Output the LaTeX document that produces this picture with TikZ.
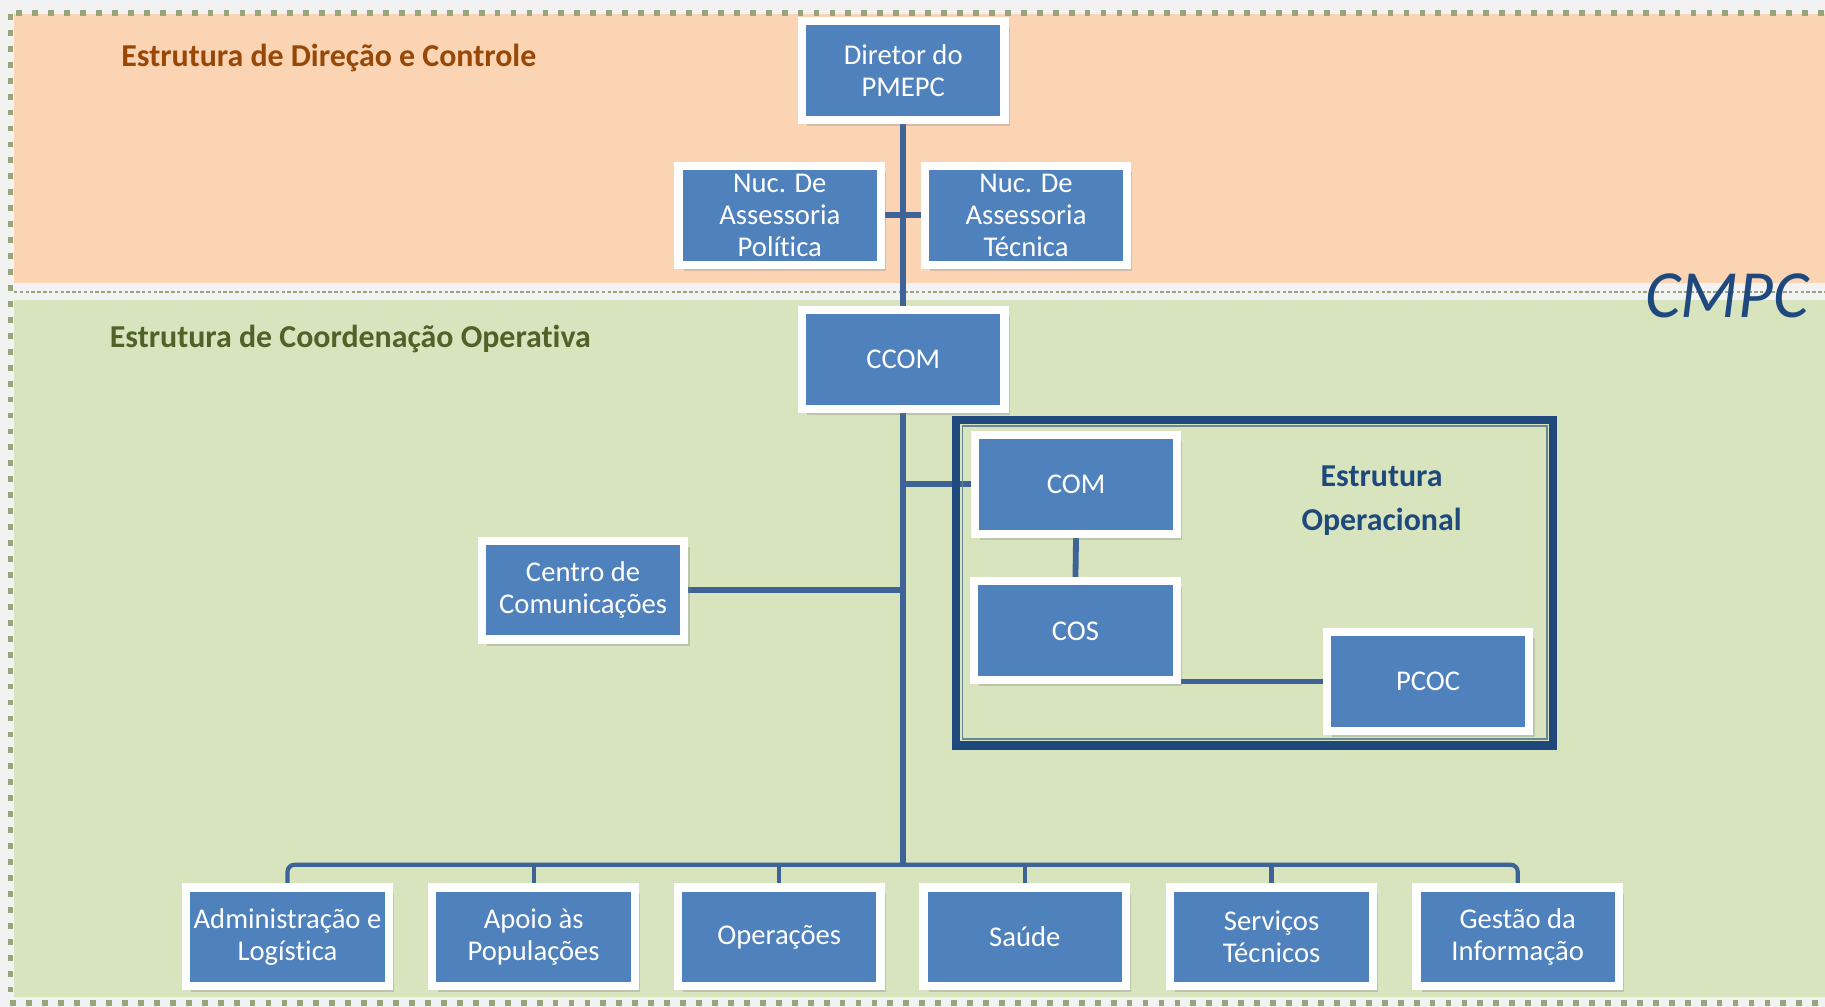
\documentclass[tikz,border=0pt]{standalone}
\usepackage{fontspec}
\setmainfont{Carlito}[Ligatures={NoCommon}]
\usetikzlibrary{shadows}
\definecolor{bgray}{HTML}{F2F2F2}
\definecolor{orangeband}{HTML}{FBD4B4}
\definecolor{greenband}{HTML}{D7E4BD}
\definecolor{boxblue}{HTML}{4F81BD}
\definecolor{linkblue}{HTML}{3E6497}
\definecolor{darkblue}{HTML}{1F497D}
\definecolor{titlebrown}{HTML}{984806}
\definecolor{titlegreen}{HTML}{4F6228}
\definecolor{dotgreen}{HTML}{98A57A}
\pgfdeclarelayer{bg}
\pgfdeclarelayer{mid}
\pgfsetlayers{bg,mid,main}
\begin{document}
\begin{tikzpicture}[x=0.5pt,y=-0.5pt,
  orgbox/.style={draw=white, fill=boxblue, line width=3.5pt,
    minimum width=87pt, minimum height=42.5pt, inner sep=0pt,
    align=center, text=white, font=\fontsize{12.3}{13.8}\selectfont,
    drop shadow={opacity=0.3, shadow xshift=2.2pt, shadow yshift=-2.6pt}},
  link/.style={draw=linkblue, line width=2.5pt},
  bus/.style={draw=linkblue, line width=1.8pt},
  bandtitle/.style={inner sep=0pt, font=\fontsize{13.7}{16}\selectfont\bfseries},
  dotborder/.style={draw=dotgreen, line width=2.5pt, dash pattern=on 2.5pt off 4.35pt}
]
\useasboundingbox (0,0) rectangle (1568,865);
\begin{pgfonlayer}{bg}
  \fill[bgray] (0,0) rectangle (1568,865);
  \fill[orangeband] (12,12) rectangle (1568,243);
  \fill[greenband] (12,258) rectangle (1568,857);
  \draw[dotborder] (14,11) -- (1568,11);
  \draw[dotborder] (9,12) -- (9,860);
  \draw[dotborder] (9,862) -- (1568,862);
  \draw[dotgreen, line width=0.6pt, dash pattern=on 1.5pt off 1pt] (12,251) -- (1568,251);
\end{pgfonlayer}

% band titles
\node[bandtitle, text=titlebrown] (t1) at (282.5,50) {Estrutura de Direção e Controle};
\node[bandtitle, text=titlegreen] (t2) at (301,291.5) {Estrutura de Coordenação Operativa};
\node[inner sep=0pt, text=darkblue, font=\fontsize{29}{34}\selectfont\itshape] (cmpc) at (1484,254) {CMPC};

% boxes
\node[orgbox] (dir) at (776,60.5) {Diretor do\\PMEPC};
\node[orgbox] (nucpol) at (670,185) {Nuc. De\\Assessoria\\Política};
\node[orgbox] (nuctec) at (881.5,185) {Nuc. De\\Assessoria\\Técnica};
\node[orgbox] (ccom) at (776,309) {CCOM};
\node[orgbox] (com) at (924.5,416) {COM};
\node[orgbox] (cos) at (924,542) {COS};
\node[orgbox] (pcoc) at (1227,585.5) {PCOC};
\node[orgbox] (centro) at (501,507) {Centro de\\Comunicações};
\node[orgbox] (b1) at (247,805) {Administração e\\Logística};
\node[orgbox] (b2) at (458.5,805) {Apoio às\\Populações};
\node[orgbox] (b3) at (669.5,805) {Operações};
\node[orgbox] (b4) at (880.5,805) {Saúde};
\node[orgbox] (b5) at (1092.5,805) {Serviços\\Técnicos};
\node[orgbox] (b6) at (1304,805) {Gestão da\\Informação};

\node[inner sep=0pt, align=center, text=darkblue, font=\fontsize{13.7}{19}\selectfont\bfseries] (optitle) at (1187,430) {Estrutura\\Operacional};

% connectors and frame
\begin{pgfonlayer}{mid}
  \coordinate (busy) at (776,743);
  \draw[link] (dir.south) -- (ccom.north);
  \draw[link] (nucpol.east) -- (nuctec.west);
  \draw[link] (ccom.south) -- (ccom.south |- busy);
  \draw[link] (com.west) -- (com.west -| ccom.south);
  \draw[link] (centro.east) -- (centro.east -| ccom.south);
  \draw[link] (com.south) -- (cos.north);
  \draw[link] (pcoc.west) -- (pcoc.west -| cos.east);
  \draw[bus, rounded corners=3pt] (b1.north) |- (busy) -| (b6.north);
  \foreach \b in {b2,b3,b4,b5} { \draw[bus] (\b.north) -- (\b.north |- busy); }
  \draw[darkblue, line width=3.5pt] (821.5,360.5) rectangle (1334.5,640.5);
  \draw[darkblue!60!greenband, line width=0.8pt] (827,366) rectangle (1329,635);
\end{pgfonlayer}
\end{tikzpicture}
\end{document}
